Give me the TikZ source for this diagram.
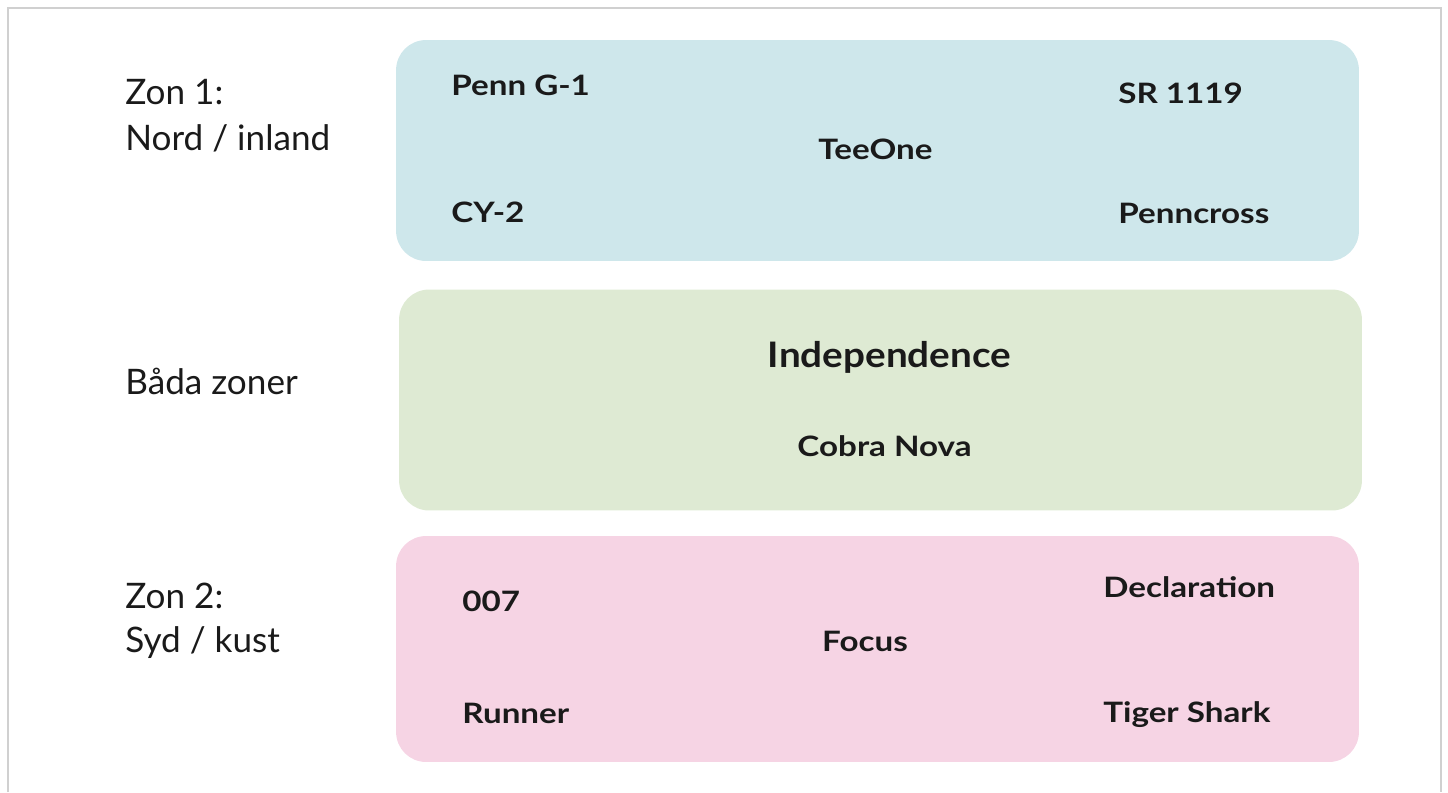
\documentclass[tikz,border=0pt]{standalone}
\usepackage{fontspec}
\setmainfont{Lato}
\newfontfamily\sortfont{Lato}[FakeStretch=1.18]
\newfontfamily\sortbigfont{Lato}[FakeStretch=1.1]
\usetikzlibrary{positioning}
\definecolor{zonblue}{HTML}{CEE7EB}
\definecolor{zongreen}{HTML}{DEEAD3}
\definecolor{zonpink}{HTML}{F6D4E4}
\definecolor{inktext}{HTML}{1A1A1A}
\definecolor{framegray}{HTML}{D0D0D0}
\tikzset{zonebox/.style={rounded corners=0.6cm, draw=none, minimum width=19.26cm, minimum height=4.42cm},
        sortname/.style={text=inktext, font=\sortfont\fontsize{16}{19}\selectfont\bfseries, inner sep=0pt},
        sortbig/.style={text=inktext, font=\sortbigfont\fontsize{20}{24}\selectfont\bfseries, inner sep=0pt},
        zonlabel/.style={text=inktext, font=\fontsize{20}{24}\selectfont, inner sep=0pt, anchor=base west},
        }

\begin{document}
\begin{tikzpicture}[x=0.02cm, y=-0.02cm]
    \useasboundingbox (0,0) rectangle (1448,792);
    \draw[framegray, line width=0.8pt] (8,792) -- (8,8) -- (1441,8) -- (1441,792);

    % zones
    \node[zonebox, fill=zonblue] (nord) at (877.5,150.5) {};
    \node[zonebox, fill=zongreen] (bada) at (880.5,400) {};
    \node[zonebox, fill=zonpink, minimum height=4.52cm] (syd) at (877.5,649) {};

    % labels left
    \node[zonlabel] (zon1) at (125,104) {Zon 1:};
    \node[zonlabel] (zon1b) at (125,150) {Nord / inland};
    \node[zonlabel] (both) at (125,394) {Båda zoner};
    \node[zonlabel] (zon2) at (125,608) {Zon 2:};
    \node[zonlabel] (zon2b) at (125,652) {Syd / kust};

    % zon 1
    \node[sortname, anchor=base west] (penng) at (451,95) {Penn G-1};
    \node[sortname, anchor=base west] (sr) at (1118,103) {SR 1119};
    \node[sortname, anchor=base] (teeone) at (875.5,159) {TeeOne};
    \node[sortname, anchor=base west] (cy) at (451,222) {CY-2};
    \node[sortname, anchor=base west] (penncross) at (1118,223) {Penncross};

    % both
    \node[sortbig, anchor=base] (indep) at (889.5,367) {Independence};
    \node[sortname, anchor=base] (cobra) at (884.5,456) {Cobra Nova};

    % zon 2
    \node[sortname, anchor=base west] (bond) at (462,611) {007};
    \node[sortname, anchor=base west] (decl) at (1103,597) {Declaration};
    \node[sortname, anchor=base] (focus) at (865,651) {Focus};
    \node[sortname, anchor=base west] (runner) at (462,723) {Runner};
    \node[sortname, anchor=base west] (tiger) at (1103,722) {Tiger Shark};
\end{tikzpicture}
\end{document}
